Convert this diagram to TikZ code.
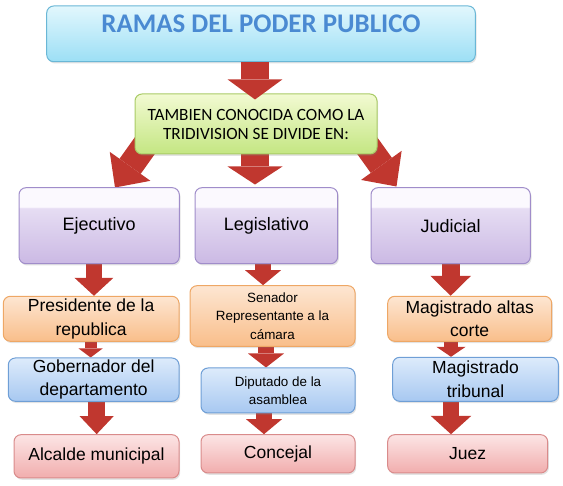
\documentclass[tikz,border=0pt]{standalone}
\usepackage{fontspec}
\newfontfamily\arialf{Liberation Sans}
\newfontfamily\calibf{Carlito}
\usetikzlibrary{arrows.meta,calc,shadows,backgrounds}
\definecolor{purpB}{HTML}{CBB9E4}
\definecolor{purpT}{HTML}{E6DDF3}
\definecolor{purpW}{HTML}{FBF9FE}
\definecolor{purpD}{HTML}{A08DCA}
\definecolor{orT}{HTML}{FDE6D2}
\definecolor{orB}{HTML}{F9BE8A}
\definecolor{orD}{HTML}{EEA765}
\definecolor{blT}{HTML}{DDEBFB}
\definecolor{blB}{HTML}{A7C8F1}
\definecolor{blD}{HTML}{6F9FD6}
\definecolor{pkT}{HTML}{FCE5E5}
\definecolor{pkB}{HTML}{F1ADAD}
\definecolor{pkD}{HTML}{D98B8B}
\definecolor{grT}{HTML}{F2FAD2}
\definecolor{grB}{HTML}{C4E682}
\definecolor{grD}{HTML}{A9CB66}
\definecolor{cyT}{HTML}{E2F7FD}
\definecolor{cyB}{HTML}{9CDFF5}
\definecolor{cyD}{HTML}{6AB7D6}
\definecolor{arrred}{HTML}{C0372F}
\definecolor{titleblue}{HTML}{4A8AD2}
\pgfdeclareverticalshading{purpsh}{100bp}{color(0bp)=(purpB); color(25bp)=(purpB); color(61.5bp)=(purpT); color(62.5bp)=(purpW); color(100bp)=(purpW)}
\begin{document}
\begin{tikzpicture}[x=1pt,y=-1pt,
  box/.style={rounded corners=7pt, line width=1pt, inner sep=0pt, align=center,
    drop shadow={opacity=0.22, shadow xshift=1.2pt, shadow yshift=-1.8pt}},
  titlebox/.style={box, draw=cyD, top color=cyT, bottom color=cyB,
    text=titleblue, font=\calibf\bfseries\fontsize{26.9}{30}\selectfont},
  greenbox/.style={box, draw=grD, top color=grT, bottom color=grB,
    font=\calibf\fontsize{17.2}{19}\selectfont},
  purpbox/.style={box, draw=purpD, shading=purpsh,
    font=\arialf\fontsize{18}{23.5}\selectfont},
  orbox/.style={box, draw=orD, top color=orT, bottom color=orB,
    font=\arialf\fontsize{17.5}{23.5}\selectfont},
  blbox/.style={box, draw=blD, top color=blT, bottom color=blB,
    font=\arialf\fontsize{17.5}{23.5}\selectfont},
  pkbox/.style={box, draw=pkD, top color=pkT, bottom color=pkB,
    font=\arialf\fontsize{17.5}{23.5}\selectfont},
  smalltext/.style={font=\arialf\fontsize{13.4}{18.3}\selectfont},
  barr/.style n args={3}{draw=arrred, line width=#1,
    -{Triangle[width=#2,length=#3,line width=0pt]}}
]
\useasboundingbox (0,0) rectangle (563,486);

% title and second level
\node[titlebox, minimum width=428.6pt, text height=26.3pt, text depth=29.4pt] (title) at (261,33.85) {RAMAS DEL PODER PUBLICO};
\node[greenbox, minimum width=242pt, minimum height=60pt] (tri) at (256,124) {TAMBIEN CONOCIDA COMO LA\\TRIDIVISION SE DIVIDE EN:};

% branches
\node[purpbox, minimum width=160.3pt, minimum height=76pt] (ej) at (99.15,225.7) {Ejecutivo};
\node[purpbox, minimum width=142.7pt, minimum height=76pt] (leg) at (266.35,225.7) {Legislativo};
\node[purpbox, minimum width=159.3pt, minimum height=76pt] (jud) at (450.65,225.7) {Judicial};

% orange row
\node[orbox, minimum width=175.7pt, minimum height=45pt] (pres) at (91.15,318.8) {Presidente de la\\republica};
\node[orbox, smalltext, minimum width=165pt, minimum height=60.6pt] (sen) at (272.5,316) {Senador\\Representante a la\\cámara};
\node[orbox, minimum width=164pt, minimum height=45pt] (mag) at (469.7,318.8) {Magistrado altas\\corte};

% blue row
\node[blbox, minimum width=170.7pt, minimum height=43.3pt] (gob) at (93.65,379.65) {Gobernador del\\departamento};
\node[blbox, smalltext, minimum width=154pt, minimum height=45pt] (dip) at (278,390.5) {Diputado de la\\asamblea};
\node[blbox, minimum width=165.6pt, minimum height=44pt] (magt) at (475.5,379.3) {Magistrado\\tribunal};

% pink row
\node[pkbox, minimum width=165pt, minimum height=43.3pt] (alc) at (96.5,456.35) {Alcalde municipal};
\node[pkbox, minimum width=154pt, minimum height=38.3pt] (con) at (278,453.85) {Concejal};
\node[pkbox, minimum width=160pt, minimum height=38.3pt] (juez) at (467.7,453.85) {Juez};

\begin{pgfonlayer}{background}
% from the second level to the branches
\draw[barr={26pt}{50pt}{26pt}] ($(tri.south west)+(14,-14)$) -- ($(ej.north)+(15.85,0.3)$);
\draw[barr={28pt}{55pt}{18pt}] ($(tri.south)+(-1,0)$) -- ($(leg.north)+(-11.35,-2.7)$);
\draw[barr={26pt}{50pt}{26pt}] ($(tri.south east)+(-14,-14)$) -- ($(jud.north west)+(26,-0.7)$);
% Ejecutivo column
\draw[barr={16pt}{39pt}{18pt}] ([xshift=-5.2pt]ej.south) -- ([xshift=-5.2pt]ej.south |- pres.north);
\draw[barr={12pt}{24pt}{9pt}] ([xshift=-0.5pt]pres.south) -- ([xshift=-0.5pt]pres.south |- gob.north);
\draw[barr={16.5pt}{34pt}{18pt}] ([xshift=3pt]gob.south) -- ([xshift=3pt]gob.south |- alc.north);
% Legislativo column
\draw[barr={16pt}{36pt}{15pt}] ([xshift=-3.3pt]leg.south) -- ([xshift=-3.3pt]leg.south |- sen.north);
\draw[barr={16pt}{36pt}{14pt}] ([xshift=-6.5pt]sen.south) -- ([xshift=-6.5pt]sen.south |- dip.north);
\draw[barr={16pt}{36pt}{15pt}] ([xshift=-14pt]dip.south) -- ([xshift=-14pt]dip.south |- con.north);
% Judicial column
\draw[barr={18pt}{40.7pt}{20pt}] (jud.south) -- (jud.south |- mag.north);
\draw[barr={14pt}{29.3pt}{10pt}] ([xshift=-18.7pt]mag.south) -- ([xshift=-18.7pt]mag.south |- magt.north);
\draw[barr={16.6pt}{40.7pt}{18.4pt}] ([xshift=-24.5pt]magt.south) -- ([xshift=-24.5pt]magt.south |- juez.north);
\end{pgfonlayer}

% from the title to the second level (tip lies over the green box)
\draw[barr={28.6pt}{54.6pt}{20pt}] ($(title.south)+(-6,0)$) -- ($(tri.north)+(-1,6)$);
\end{tikzpicture}
\end{document}
